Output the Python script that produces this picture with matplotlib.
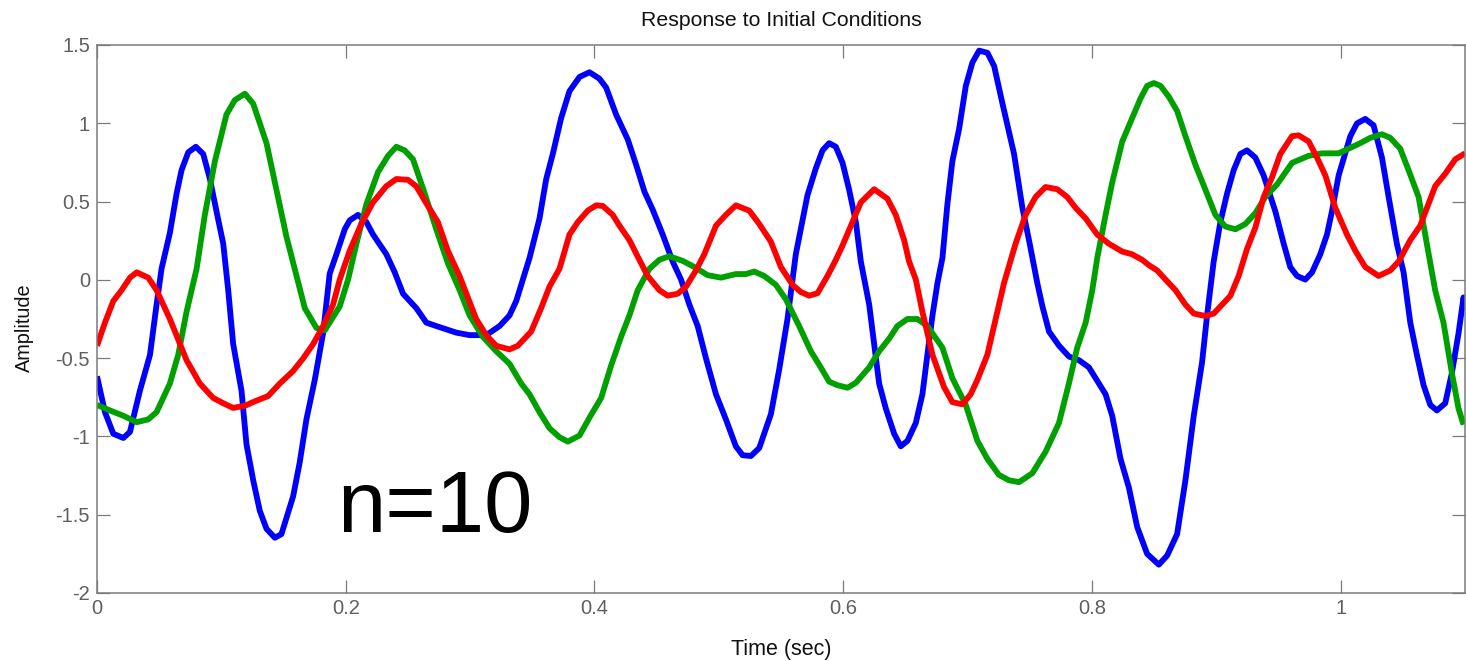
import matplotlib
matplotlib.use("Agg")
import matplotlib.pyplot as plt

plt.rcParams['font.family'] = ['Liberation Sans', 'DejaVu Sans']

# Time samples and amplitudes of the three response traces
t_blue = [0.000, 0.0064, 0.0131, 0.0212, 0.0265, 0.0345, 0.0426, 0.0479, 0.0519, 0.0586,
          0.064, 0.068, 0.0734, 0.0795, 0.0854, 0.0908, 0.0961, 0.1015, 0.1055, 0.1095,
          0.1162, 0.1202, 0.1256, 0.1309, 0.1363, 0.143, 0.1483, 0.1577, 0.163, 0.1684,
          0.1751, 0.1818, 0.1871, 0.1925, 0.1992, 0.2032, 0.2099, 0.2166, 0.222, 0.2327,
          0.2394, 0.2461, 0.2568, 0.2648, 0.2728, 0.2889, 0.2996, 0.313, 0.3237, 0.3317,
          0.3371, 0.3478, 0.3558, 0.3612, 0.3665, 0.3732, 0.3799, 0.388, 0.396, 0.404,
          0.4094, 0.4174, 0.4268, 0.4335, 0.4402, 0.4468, 0.4549, 0.4629, 0.4696, 0.4763,
          0.483, 0.4897, 0.4977, 0.5057, 0.5137, 0.5191, 0.5258, 0.5325, 0.5419, 0.5486,
          0.5552, 0.5619, 0.5713, 0.578, 0.5834, 0.5887, 0.5941, 0.5995, 0.6048, 0.6102,
          0.6142, 0.6209, 0.6249, 0.6289, 0.6343, 0.641, 0.6463, 0.6517, 0.6584, 0.6637,
          0.6677, 0.6718, 0.6758, 0.6798, 0.6838, 0.6878, 0.6932, 0.6986, 0.7039, 0.7093,
          0.716, 0.7214, 0.7281, 0.7374, 0.7441, 0.7494, 0.7561, 0.7602, 0.7655, 0.7736,
          0.7816, 0.7896, 0.7976, 0.803, 0.811, 0.8163, 0.823, 0.8297, 0.8364, 0.8444,
          0.8538, 0.8605, 0.8685, 0.8752, 0.8819, 0.8886, 0.8926, 0.8979, 0.9033, 0.9087,
          0.914, 0.9194, 0.9247, 0.9314, 0.9381, 0.9475, 0.9542, 0.9595, 0.9649, 0.9716,
          0.977, 0.9836, 0.989, 0.993, 0.9984, 1.0078, 1.0131, 1.0198, 1.0265, 1.0332,
          1.0386, 1.0452, 1.0506, 1.056, 1.0613, 1.0667, 1.0721, 1.0774, 1.0841, 1.0895,
          1.0948, 1.0988, 1.1]
y_blue = [-0.616, -0.845, -0.983, -1.010, -0.971, -0.708, -0.479, -0.158, 0.071, 0.300,
          0.552, 0.701, 0.815, 0.850, 0.804, 0.644, 0.437, 0.231, -0.066, -0.410,
          -0.708, -1.051, -1.280, -1.475, -1.590, -1.647, -1.624, -1.383, -1.166, -0.891,
          -0.639, -0.341, 0.040, 0.163, 0.323, 0.380, 0.415, 0.369, 0.289, 0.163,
          0.048, -0.089, -0.181, -0.273, -0.295, -0.337, -0.353, -0.353, -0.295, -0.227,
          -0.135, 0.140, 0.392, 0.644, 0.804, 1.033, 1.205, 1.296, 1.326, 1.285,
          1.228, 1.056, 0.896, 0.735, 0.563, 0.449, 0.289, 0.117, 0.002, -0.158,
          -0.295, -0.502, -0.731, -0.891, -1.063, -1.120, -1.125, -1.074, -0.857, -0.570,
          -0.250, 0.163, 0.541, 0.712, 0.827, 0.873, 0.850, 0.747, 0.575, 0.369,
          0.117, -0.158, -0.410, -0.662, -0.822, -0.983, -1.063, -1.028, -0.914, -0.731,
          -0.479, -0.227, -0.021, 0.140, 0.483, 0.758, 0.964, 1.239, 1.388, 1.464,
          1.450, 1.365, 1.125, 0.804, 0.460, 0.254, -0.021, -0.169, -0.330, -0.421,
          -0.490, -0.513, -0.559, -0.628, -0.731, -0.868, -1.143, -1.326, -1.578, -1.750,
          -1.819, -1.761, -1.624, -1.280, -0.868, -0.525, -0.227, 0.117, 0.369, 0.552,
          0.701, 0.804, 0.827, 0.781, 0.667, 0.437, 0.231, 0.082, 0.025, 0.002,
          0.048, 0.163, 0.289, 0.437, 0.667, 0.918, 0.999, 1.028, 0.987, 0.781,
          0.529, 0.231, 0.048, -0.273, -0.479, -0.673, -0.799, -0.834, -0.788, -0.593,
          -0.341, -0.112, -0.19]

t_green = [0.000, 0.0104, 0.0212, 0.0319, 0.0412, 0.0479, 0.0586, 0.0653, 0.072, 0.0801,
           0.0867, 0.0948, 0.1041, 0.1108, 0.1189, 0.1256, 0.1363, 0.1443, 0.1523, 0.1604,
           0.1671, 0.1764, 0.1831, 0.1952, 0.2019, 0.2086, 0.2166, 0.226, 0.234, 0.2407,
           0.2474, 0.2541, 0.2635, 0.2728, 0.2822, 0.2916, 0.2996, 0.3103, 0.321, 0.3317,
           0.3411, 0.3478, 0.3558, 0.3639, 0.3719, 0.3786, 0.388, 0.396, 0.4054, 0.4134,
           0.4214, 0.4281, 0.4348, 0.4442, 0.4522, 0.4602, 0.471, 0.4803, 0.491, 0.5017,
           0.5137, 0.5218, 0.5285, 0.5365, 0.5459, 0.5539, 0.5646, 0.574, 0.582, 0.5887,
           0.5954, 0.6035, 0.6102, 0.6209, 0.6289, 0.6369, 0.6436, 0.6517, 0.6597, 0.6677,
           0.6798, 0.6878, 0.6986, 0.7079, 0.7159, 0.7253, 0.7333, 0.7414, 0.7521, 0.7628,
           0.7735, 0.7815, 0.7882, 0.795, 0.8003, 0.8043, 0.811, 0.8163, 0.8244, 0.8324,
           0.8391, 0.8444, 0.8498, 0.8552, 0.8618, 0.8685, 0.8752, 0.8832, 0.8913, 0.8993,
           0.9073, 0.9154, 0.9234, 0.9314, 0.9394, 0.9488, 0.9609, 0.9742, 0.985, 0.9984,
           1.0064, 1.0158, 1.0238, 1.0332, 1.0399, 1.0479, 1.0546, 1.0627, 1.0693, 1.076,
           1.0827, 1.0894, 1.0948, 1.0988]
y_green = [-0.799, -0.834, -0.868, -0.909, -0.891, -0.845, -0.662, -0.479, -0.204, 0.071,
           0.415, 0.758, 1.056, 1.148, 1.189, 1.125, 0.873, 0.575, 0.277, 0.025,
           -0.181, -0.307, -0.323, -0.169, 0.002, 0.231, 0.483, 0.689, 0.792, 0.850,
           0.827, 0.770, 0.552, 0.323, 0.105, -0.066, -0.227, -0.364, -0.456, -0.536,
           -0.662, -0.731, -0.845, -0.948, -1.005, -1.033, -0.994, -0.880, -0.754, -0.547,
           -0.364, -0.227, -0.066, 0.071, 0.128, 0.151, 0.121, 0.082, 0.030, 0.014,
           0.037, 0.037, 0.053, 0.025, -0.032, -0.124, -0.295, -0.456, -0.559, -0.650,
           -0.673, -0.689, -0.657, -0.559, -0.456, -0.376, -0.295, -0.250, -0.250, -0.295,
           -0.433, -0.628, -0.799, -1.028, -1.143, -1.246, -1.280, -1.292, -1.235, -1.097,
           -0.914, -0.662, -0.433, -0.273, -0.066, 0.140, 0.415, 0.621, 0.884, 1.033,
           1.159, 1.239, 1.257, 1.239, 1.170, 1.079, 0.918, 0.735, 0.575, 0.415,
           0.341, 0.323, 0.357, 0.426, 0.529, 0.609, 0.747, 0.792, 0.808, 0.808,
           0.838, 0.873, 0.907, 0.930, 0.907, 0.838, 0.701, 0.529, 0.231, -0.066,
           -0.273, -0.593, -0.822, -0.925]

t_red = [0.000, 0.0064, 0.0131, 0.0198, 0.0265, 0.0319, 0.0412, 0.0479, 0.0586, 0.072,
         0.0827, 0.0934, 0.1015, 0.1095, 0.1189, 0.1269, 0.1376, 0.147, 0.1577, 0.1657,
         0.1738, 0.1818, 0.1898, 0.1952, 0.2032, 0.2125, 0.2219, 0.2326, 0.2407, 0.25,
         0.2567, 0.2661, 0.2741, 0.2821, 0.2915, 0.2982, 0.3049, 0.313, 0.321, 0.3317,
         0.3384, 0.3491, 0.3571, 0.3638, 0.3719, 0.3799, 0.3866, 0.3946, 0.4014, 0.4067,
         0.4147, 0.4201, 0.4281, 0.4361, 0.4428, 0.4522, 0.4589, 0.4669, 0.4736, 0.4816,
         0.4883, 0.4977, 0.5057, 0.5137, 0.5245, 0.5325, 0.5419, 0.5499, 0.5593, 0.566,
         0.5727, 0.5794, 0.5874, 0.5941, 0.5995, 0.6075, 0.6142, 0.6249, 0.6356, 0.6423,
         0.649, 0.653, 0.6584, 0.6637, 0.6718, 0.6811, 0.6878, 0.6959, 0.7025, 0.7079,
         0.7159, 0.7226, 0.7293, 0.7386, 0.7467, 0.7547, 0.7627, 0.7721, 0.7802, 0.7869,
         0.795, 0.8043, 0.8136, 0.8243, 0.8324, 0.8404, 0.8458, 0.8525, 0.8578, 0.8672,
         0.8752, 0.8819, 0.8913, 0.898, 0.9047, 0.9114, 0.918, 0.9247, 0.9314, 0.9381,
         0.9448, 0.9515, 0.9609, 0.9662, 0.9743, 0.981, 0.9877, 0.9957, 1.0051, 1.0118,
         1.0198, 1.0305, 1.0399, 1.0466, 1.056, 1.064, 1.076, 1.0841, 1.0922, 1.1]
y_red = [-0.421, -0.273, -0.135, -0.066, 0.014, 0.048, 0.014, -0.066, -0.250, -0.513,
         -0.662, -0.754, -0.788, -0.818, -0.804, -0.776, -0.742, -0.662, -0.582, -0.502,
         -0.410, -0.295, -0.158, 0.002, 0.186, 0.357, 0.495, 0.598, 0.644, 0.639,
         0.598, 0.472, 0.369, 0.186, 0.025, -0.112, -0.250, -0.353, -0.421, -0.444,
         -0.421, -0.330, -0.181, -0.044, 0.071, 0.289, 0.369, 0.442, 0.476, 0.472,
         0.415, 0.346, 0.254, 0.128, 0.025, -0.066, -0.101, -0.089, -0.044, 0.060,
         0.163, 0.346, 0.415, 0.476, 0.442, 0.357, 0.243, 0.082, -0.032, -0.078,
         -0.101, -0.085, 0.025, 0.128, 0.220, 0.369, 0.495, 0.579, 0.518, 0.415,
         0.254, 0.117, 0.002, -0.204, -0.479, -0.685, -0.781, -0.795, -0.731, -0.639,
         -0.479, -0.250, -0.021, 0.231, 0.415, 0.529, 0.593, 0.579, 0.529, 0.460,
         0.392, 0.289, 0.231, 0.181, 0.163, 0.128, 0.094, 0.060, 0.014, -0.066,
         -0.158, -0.215, -0.231, -0.215, -0.158, -0.101, 0.025, 0.197, 0.334, 0.529,
         0.655, 0.804, 0.918, 0.923, 0.884, 0.781, 0.667, 0.460, 0.289, 0.186,
         0.082, 0.025, 0.060, 0.117, 0.254, 0.346, 0.598, 0.678, 0.770, 0.808]

x_ticks = [0, 0.2, 0.4, 0.6, 0.8, 1]
x_ticklabels = ['0', '0.2', '0.4', '0.6', '0.8', '1']
y_ticks = [-2, -1.5, -1, -0.5, 0, 0.5, 1, 1.5]
y_ticklabels = ['-2', '-1.5', '-1', '-0.5', '0', '0.5', '1', '1.5']

frame_gray = '#7a7a7a'
label_gray = '#5f5f5f'

fig = plt.figure(figsize=(14.66, 6.61), dpi=100)
ax = fig.add_axes([97 / 1466, 1 - 593 / 661, 1368 / 1466, 548 / 661])

ax.plot(t_blue, y_blue, color='#0000ff', lw=4.2, solid_joinstyle='round', solid_capstyle='butt')
ax.plot(t_green, y_green, color='#00a000', lw=4.2, solid_joinstyle='round', solid_capstyle='butt')
ax.plot(t_red, y_red, color='#ff0000', lw=4.2, solid_joinstyle='round', solid_capstyle='butt')

ax.set_xlim(0, 1.1)
ax.set_ylim(-2, 1.5)
ax.set_xticks(x_ticks)
ax.set_xticklabels(x_ticklabels)
ax.set_yticks(y_ticks)
ax.set_yticklabels(y_ticklabels)

for s in ax.spines.values():
    s.set_color(frame_gray)
    s.set_linewidth(1.1)
ax.tick_params(direction='in', length=9.5, width=0.9, color=frame_gray,
               labelcolor=label_gray, labelsize=14.5, top=True, right=True)
ax.tick_params(axis='x', pad=4)
ax.tick_params(axis='y', pad=5)

ax.set_title('Response to Initial Conditions', fontsize=15.3, pad=13.5, color='#111111')
ax.set_xlabel('Time (sec)', fontsize=15.5, labelpad=15.5, color='#111111')
ax.set_ylabel('Amplitude', fontsize=14.3, color='#111111')
ax.yaxis.set_label_coords(-0.0464, 0.485)

ax.text(0.1935, -1.61, 'n=10', fontsize=62.5, color='black', va='baseline', ha='left')

fig.savefig('out.png', dpi=100)
